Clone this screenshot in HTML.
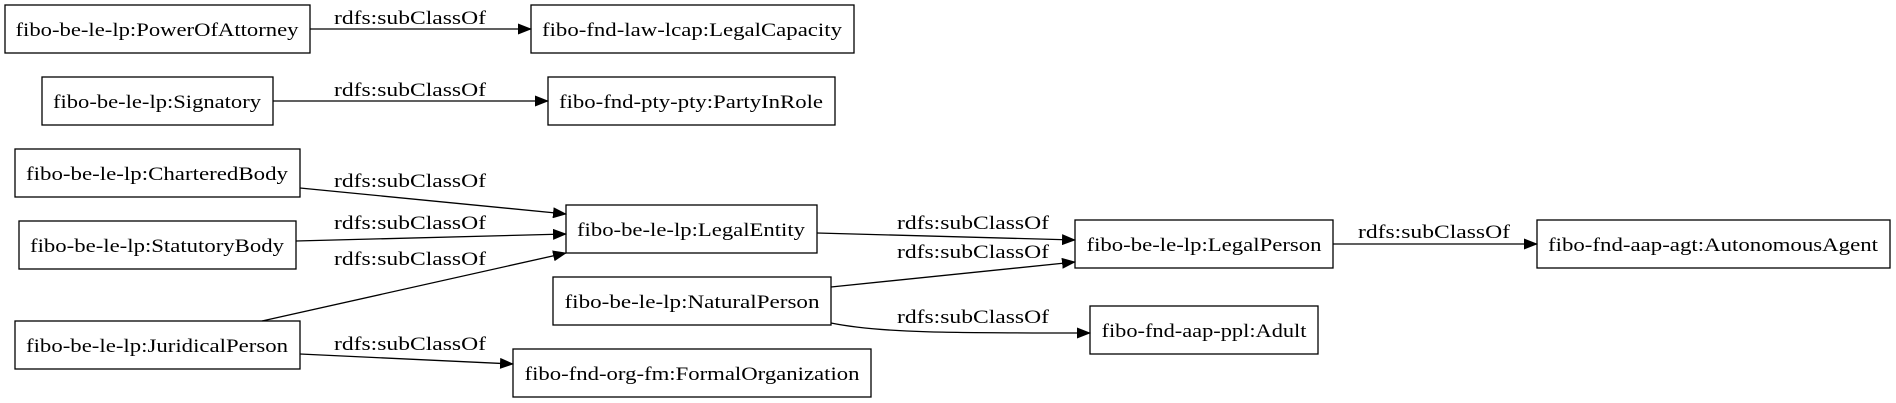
<!DOCTYPE html>
<html><head><meta charset="utf-8"><style>
html,body{margin:0;padding:0;background:#fff;}
svg{display:block;}
text{font-family:"Liberation Serif","DejaVu Serif",serif;font-size:19px;fill:#000;}
</style></head><body>
<svg width="1896" height="403" viewBox="0 0 1896 403" xmlns="http://www.w3.org/2000/svg">
<defs><marker id="a" markerWidth="14" markerHeight="11" refX="13" refY="5.5" orient="auto" markerUnits="userSpaceOnUse"><path d="M0,0 L14,5.5 L0,11 Z" fill="#000"/></marker></defs>
<g fill="none" stroke="#000" stroke-width="1.3">
<rect x="5" y="5" width="305" height="48"/>
<rect x="531" y="5" width="323" height="48"/>
<rect x="42" y="77" width="231" height="48"/>
<rect x="548" y="77" width="287" height="48"/>
<rect x="15" y="149" width="285" height="48"/>
<rect x="566" y="205" width="251" height="48"/>
<rect x="19" y="221" width="277" height="48"/>
<rect x="553" y="277" width="278" height="48"/>
<rect x="15" y="321" width="285" height="48"/>
<rect x="513" y="349" width="358" height="48"/>
<rect x="1075" y="220" width="258" height="48"/>
<rect x="1537" y="220" width="353" height="48"/>
<rect x="1090" y="306" width="228" height="48"/>
<path d="M310,29 L531,29" marker-end="url(#a)"/>
<path d="M273,101 L548,101" marker-end="url(#a)"/>
<path d="M300,188 L566,214" marker-end="url(#a)"/>
<path d="M296,241 L566,234" marker-end="url(#a)"/>
<path d="M262,321 L566,253" marker-end="url(#a)"/>
<path d="M300,354 L513,364" marker-end="url(#a)"/>
<path d="M817,233 L1075,240" marker-end="url(#a)"/>
<path d="M831,287 L1075,262" marker-end="url(#a)"/>
<path d="M831,323 C880,333 950,333 1090,333" marker-end="url(#a)"/>
<path d="M1333,244 L1537,244" marker-end="url(#a)"/>
</g>
<g text-anchor="middle">
<text x="157" y="36" textLength="283" lengthAdjust="spacingAndGlyphs">fibo-be-le-lp:PowerOfAttorney</text>
<text x="692" y="36" textLength="300" lengthAdjust="spacingAndGlyphs">fibo-fnd-law-lcap:LegalCapacity</text>
<text x="157" y="108" textLength="208" lengthAdjust="spacingAndGlyphs">fibo-be-le-lp:Signatory</text>
<text x="691" y="108" textLength="264" lengthAdjust="spacingAndGlyphs">fibo-fnd-pty-pty:PartyInRole</text>
<text x="157" y="180" textLength="262" lengthAdjust="spacingAndGlyphs">fibo-be-le-lp:CharteredBody</text>
<text x="691" y="236" textLength="228" lengthAdjust="spacingAndGlyphs">fibo-be-le-lp:LegalEntity</text>
<text x="157" y="252" textLength="254" lengthAdjust="spacingAndGlyphs">fibo-be-le-lp:StatutoryBody</text>
<text x="692" y="308" textLength="255" lengthAdjust="spacingAndGlyphs">fibo-be-le-lp:NaturalPerson</text>
<text x="157" y="352" textLength="262" lengthAdjust="spacingAndGlyphs">fibo-be-le-lp:JuridicalPerson</text>
<text x="692" y="380" textLength="335" lengthAdjust="spacingAndGlyphs">fibo-fnd-org-fm:FormalOrganization</text>
<text x="1204" y="251" textLength="235" lengthAdjust="spacingAndGlyphs">fibo-be-le-lp:LegalPerson</text>
<text x="1713" y="251" textLength="330" lengthAdjust="spacingAndGlyphs">fibo-fnd-aap-agt:AutonomousAgent</text>
<text x="1204" y="337" textLength="205" lengthAdjust="spacingAndGlyphs">fibo-fnd-aap-ppl:Adult</text>
</g>
<g text-anchor="middle">
<text x="410" y="24" textLength="152" lengthAdjust="spacingAndGlyphs">rdfs:subClassOf</text>
<text x="410" y="96" textLength="152" lengthAdjust="spacingAndGlyphs">rdfs:subClassOf</text>
<text x="410" y="187" textLength="152" lengthAdjust="spacingAndGlyphs">rdfs:subClassOf</text>
<text x="410" y="229" textLength="152" lengthAdjust="spacingAndGlyphs">rdfs:subClassOf</text>
<text x="410" y="265" textLength="152" lengthAdjust="spacingAndGlyphs">rdfs:subClassOf</text>
<text x="410" y="350" textLength="152" lengthAdjust="spacingAndGlyphs">rdfs:subClassOf</text>
<text x="973" y="229" textLength="152" lengthAdjust="spacingAndGlyphs">rdfs:subClassOf</text>
<text x="973" y="258" textLength="152" lengthAdjust="spacingAndGlyphs">rdfs:subClassOf</text>
<text x="973" y="323" textLength="152" lengthAdjust="spacingAndGlyphs">rdfs:subClassOf</text>
<text x="1434" y="238" textLength="152" lengthAdjust="spacingAndGlyphs">rdfs:subClassOf</text>
</g>
</svg>
</body></html>
